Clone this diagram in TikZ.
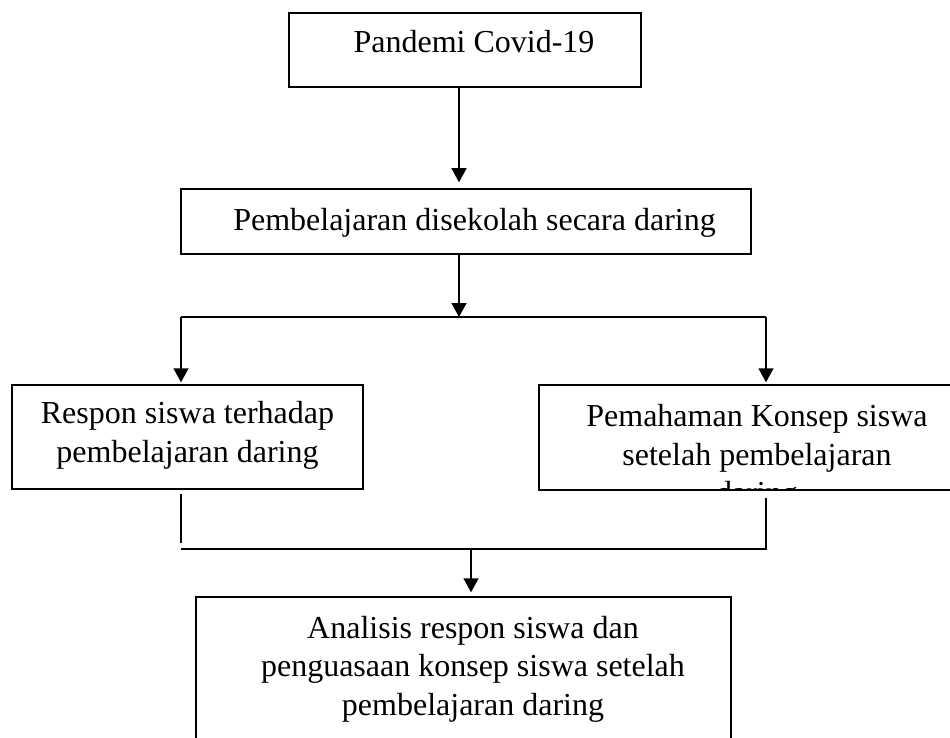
\documentclass[tikz,border=0pt]{standalone}
\usepackage{fontspec}
\setmainfont{Liberation Serif}
\usepackage{tikz}
\usetikzlibrary{arrows.meta,positioning,calc}

\tikzset{
    kotak/.style={draw, line width=1.5pt, inner sep=0pt},
    isi/.style={draw=none, inner sep=0pt, align=center, font=\fontsize{32}{38.5}\selectfont},
    alur/.style={line width=1.5pt, -{Triangle[width=15pt,length=14pt]}},
    garis/.style={line width=1.5pt}
}

\begin{document}
\begin{tikzpicture}[x=1pt, y=-1pt]
            \clip (0,0) rectangle (950,738);
            % kotak
            \node[kotak, minimum width=352pt, minimum height=74pt, path picture={
                \node[isi] at ([xshift=9pt, yshift=8pt]path picture bounding box.center) {Pandemi Covid-19};
            }] (covid) at (465,50) {};
            \node[kotak, minimum width=570pt, minimum height=65pt, path picture={
                \node[isi] at ([xshift=8.5pt, yshift=-1pt]path picture bounding box.center) {Pembelajaran disekolah secara daring};
            }] (daring) at (466,221.5) {};
            \node[kotak, minimum width=351pt, minimum height=104pt, path picture={
                \node[isi] at ([yshift=1.5pt]path picture bounding box.center) {Respon siswa terhadap\\pembelajaran daring};
            }] (respon) at (187.5,437) {};
            \node[kotak, minimum width=436pt, minimum height=105pt, path picture={
                \node[isi] at ([yshift=-20pt]path picture bounding box.center) {Pemahaman Konsep siswa\\setelah pembelajaran\\daring};
            }] (konsep) at (757,437.5) {};
            \node[kotak, minimum width=535pt, minimum height=163pt, path picture={
                \node[isi] at ([xshift=9.5pt, yshift=9.5pt]path picture bounding box.center) {Analisis respon siswa dan\\penguasaan konsep siswa setelah\\pembelajaran daring};
            }] (analisis) at (463.5,678.5) {};

            % titik cabang
            \coordinate (cabang) at (459,317);
            \coordinate (kiri) at (181,317);
            \coordinate (kanan) at (766,317);
            \coordinate (gabung) at (471,549);

            % panah
            \draw[alur, shorten >=6pt] (covid.south -| cabang) -- (daring.north -| cabang);
            \draw[alur] (daring.south -| cabang) -- (cabang);
            \draw[garis] (kiri) -- (kanan);
            \draw[alur, shorten >=2pt] (kiri) -- (kiri |- respon.north);
            \draw[alur, shorten >=2pt] (kanan) -- (kanan |- konsep.north);
            \draw[garis] ([yshift=-4pt]kiri |- respon.south) -- ([yshift=6pt]kiri |- gabung);
            \draw[garis] ([yshift=-7pt]kanan |- konsep.south) -- (kanan |- gabung) -- (kiri |- gabung);
            \draw[alur, shorten >=4pt] (gabung) -- (gabung |- analisis.north);
\end{tikzpicture}
\end{document}
